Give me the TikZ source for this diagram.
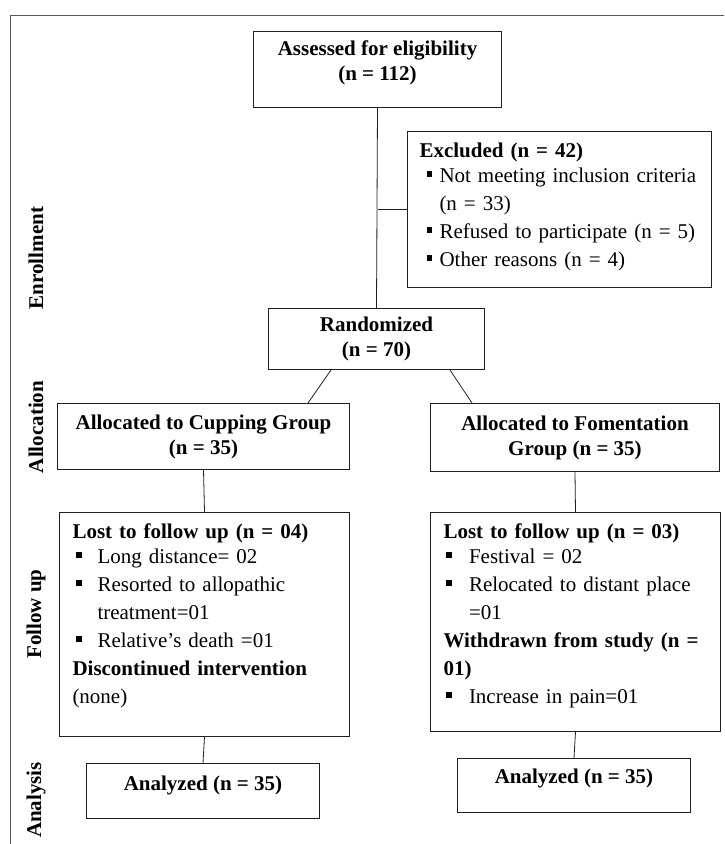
\documentclass[tikz,border=0pt]{standalone}
\usepackage{fontspec}
\setmainfont{Liberation Serif}
\usetikzlibrary{positioning}
\definecolor{frame}{rgb}{0.35,0.35,0.35}
\definecolor{edge}{rgb}{0.12,0.12,0.12}

% bullet item: bullet offset, text indent, text
\newcommand{\pitem}[3]{\par\noindent\hangindent=#2\hangafter=1%
  \makebox[#2][l]{\hspace*{#1}\rule[5.5pt]{5.5pt}{5.5pt}}#3}

\begin{document}
\begin{tikzpicture}[x=1pt,y=-1pt,
    box/.style={draw=edge,line width=1pt,anchor=north west,inner sep=0pt,
      align=center,font=\fontsize{21}{25}\selectfont\bfseries},
    listbox/.style={draw=edge,line width=1pt,anchor=north west,inner xsep=13pt,
      inner ysep=11pt,align=left,font=\fontsize{21}{28}\selectfont},
    phase/.style={rotate=90,font=\fontsize{21}{25}\selectfont\bfseries},
    link/.style={draw=edge,line width=0.8pt}]

  \useasboundingbox (0,0) rectangle (724,844);
  \draw[frame,line width=0.8pt] (724,15) -| (10,844);

  % Enrollment
  \node[box,minimum width=248pt,minimum height=76pt,text depth=18pt] (assess) at (253,31)
    {Assessed for eligibility\\(n = 112)};
  \node[listbox,inner xsep=12pt,text width=280pt] (excl) at (407,131)
    {\textbf{Excluded (n = 42)}\par\vspace{-3pt}
     \pitem{7pt}{20pt}{Not meeting inclusion criteria\newline(n = 33)}
     \pitem{7pt}{20pt}{Refused to participate (n = 5)}
     \pitem{7pt}{20pt}{Other reasons (n = 4)}\rule[-10pt]{0pt}{10pt}};
  \node[box,minimum width=216pt,minimum height=61pt] (rand) at (268,308)
    {Randomized\\(n = 70)};

  % Allocation
  \node[box,minimum width=292pt,minimum height=66pt] (cup) at (57,403)
    {Allocated to Cupping Group\\(n = 35)};
  \node[box,minimum width=289pt,minimum height=68pt] (fom) at (430,403)
    {Allocated to Fomentation\\Group (n = 35)};

  % Follow up
  \node[listbox,text width=264pt] (lostA) at (59,512)
    {\textbf{Lost to follow up (n = 04)}\par\vspace{-3pt}
     \pitem{3.5pt}{25pt}{Long distance= 02}
     \pitem{3.5pt}{25pt}{Resorted to allopathic\newline treatment=01}
     \pitem{3.5pt}{25pt}{Relative’s death =01}
     \par\noindent\textbf{Discontinued intervention}\newline
     (none)\rule[-22pt]{0pt}{22pt}};
  \node[listbox,text width=264pt] (lostB) at (430,512)
    {\textbf{Lost to follow up (n = 03)}\par\vspace{-3pt}
     \pitem{2.5pt}{25.5pt}{Festival = 02}
     \pitem{2.5pt}{25.5pt}{Relocated to distant place\newline =01}
     \par\noindent\textbf{Withdrawn from study (n =\newline 01)}
     \pitem{2.5pt}{25.5pt}{Increase in pain=01}\rule[-17pt]{0pt}{17pt}};

  % Analysis
  \node[box,minimum width=233pt,text height=27pt,text depth=28pt] (anaA) at (86,763)
    {Analyzed (n = 35)};
  \node[box,minimum width=233pt,text height=25pt,text depth=29pt] (anaB) at (457,758)
    {Analyzed (n = 35)};

  \node[phase] (enroll) at (36,258) {Enrollment};
  \node[phase] (alloc) at (36,427) {Allocation};
  \node[phase] (follow) at (36,614) {Follow up};
  \node[phase] (analys) at (36,800) {Analysis};

  \draw[link] (assess.south) -- (rand.north);
  \draw[link] (excl.west) -- (excl.west -| assess.south);
  \draw[link] ([xshift=63pt]rand.south west) -- ([xshift=251pt]cup.north west);
  \draw[link] ([xshift=-35pt]rand.south east) -- ([xshift=42pt]fom.north west);
  \draw[link] (cup.south) -- (lostA.north);
  \draw[link] (fom.south) -- (lostB.north);
  \draw[link] (lostA.south) -- (anaA.north);
  \draw[link] (lostB.south) -- (anaB.north);

\end{tikzpicture}
\end{document}
